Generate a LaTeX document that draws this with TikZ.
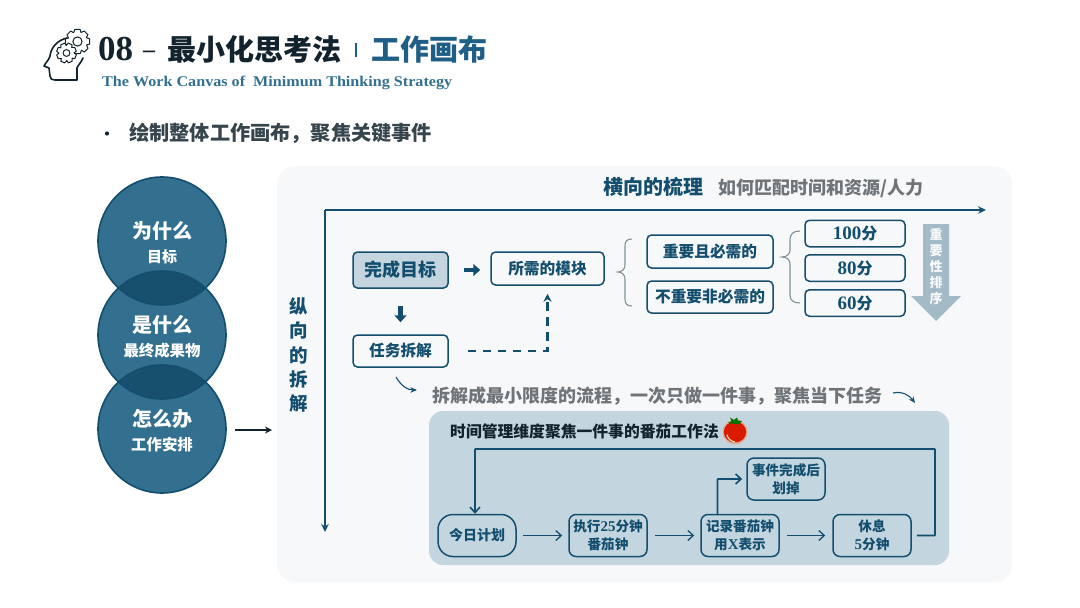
\documentclass[tikz,border=0pt]{standalone}
\usepackage{fontspec}
\usetikzlibrary{arrows.meta}
\setmainfont{Liberation Serif}
\newfontfamily\wide[FakeStretch=1.09]{Liberation Serif}
\newfontfamily\cjk{Noto Sans CJK SC}
\newcommand{\fs}[2]{\fontsize{#1}{#2}\selectfont}
\newcommand{\num}[1]{{\bfseries\rmfamily\fontsize{15}{18}\selectfont #1}}
\definecolor{ink}{HTML}{13232D}
\definecolor{teal}{HTML}{134E6E}
\definecolor{deep}{HTML}{1F5F85}
\definecolor{circ}{HTML}{33708F}
\definecolor{lap}{HTML}{17506F}
\definecolor{panel}{HTML}{F7F8F9}
\definecolor{blue}{HTML}{C3D5DF}
\definecolor{goalfill}{HTML}{C4D5E0}
\definecolor{graytext}{HTML}{6E7478}
\definecolor{bracec}{HTML}{7F9098}
\definecolor{sortc}{HTML}{A3BAC7}
\tikzset{
  box/.style={draw=teal,line width=1.5pt,rounded corners=4.5pt,inner sep=0pt,align=center,text=teal},
  bigbox/.style={box,font=\cjk\bfseries\fs{15.7}{20}},
  flowbox/.style={box,rounded corners=7pt,font=\cjk\bfseries\fs{13.6}{18}},
  scorebox/.style={box,minimum width=100pt,minimum height=26.5pt,font=\cjk\bfseries\fs{16}{20}},
  ball/.style={circle,minimum size=128pt,inner sep=0pt},
  balltext/.style={text=white,align=center,font=\cjk\bfseries},
  axis/.style={draw=teal,line width=1.8pt,-{Stealth[length=8pt,width=7.5pt]}},
  block/.style={draw=teal,line width=4.5pt,-{Triangle[length=7pt,width=12pt]}},
  flowarr/.style={draw=teal,line width=1.3pt,-{Straight Barb[length=5.5pt,width=10pt]}},
  flowline/.style={draw=teal,line width=1.6pt,rounded corners=0.5pt,-{Straight Barb[length=5.5pt,width=10pt]}},
  thin brace/.style={draw=bracec,line width=1.1pt},
  curvearr/.style={draw=teal,line width=1.1pt,-{Stealth[length=6.5pt,width=5.5pt]}},
}
\begin{document}
\begin{tikzpicture}[x=1pt,y=-1pt]
\useasboundingbox (0,0) rectangle (1080,608);
\fill[white] (0,0) rectangle (1080,608);

% ---- head icon
\draw[ink,line width=1.6pt,line join=round,line cap=round]
  (67,38) .. controls (58,40) and (51,47) .. (50,56)
  .. controls (49,60) and (46,62) .. (44,66)
  -- (49,68) -- (50,76) .. controls (50,79) and (52,80) .. (55,80) -- (77,80) -- (77,68)
  .. controls (78,65) and (81,63) .. (83,58);
\foreach \cx/\cy/\R/\r/\h/\st in {77.5/41.5/12.5/9.6/4.6/0,66.5/53/10/7.6/3.4/22}{
  \draw[ink,fill=white,line width=1pt,line join=round,shift={(\cx,\cy)}]
    (\st-24:\r) \foreach \a in {0,45,...,315}{ -- (\a+\st-12:\R) -- (\a+\st+12:\R) -- (\a+\st+21:\r) }
    -- cycle;
  \draw[ink,line width=1pt] (\cx,\cy) circle[radius=\h];
}

% ---- header
\node[anchor=west,inner sep=0pt,text=ink,font=\bfseries\fs{35}{38}] (num) at (98,49) {08};
\node[anchor=center,inner sep=0pt,text=ink,font=\bfseries\fs{24}{28}] (dash) at (149,54) {–};
\node[anchor=west,inner sep=0pt,text=ink,font=\cjk\bfseries\fs{29}{34}] (titleA) at (167,49) {最小化思考法};
\node[anchor=west,inner sep=0pt,text=deep,font=\cjk\bfseries\fs{29}{34}] (titleB) at (371,49) {工作画布};
\draw[deep,line width=1.2pt] (356,43) -- (356,57);
\node[anchor=west,inner sep=0pt,text=circ,font=\wide\bfseries\fs{14.8}{18}] (subtitle) at (102,83) {The Work Canvas of\ \ Minimum Thinking Strategy};
\fill[ink] (107,133.5) circle[radius=2.1];
\node[anchor=west,inner sep=0pt,text=ink!85,font=\cjk\bfseries\fs{20.2}{24}] (bullet) at (129,133) {绘制整体工作画布，聚焦关键事件};

% ---- panel
\fill[panel,rounded corners=18pt] (277,166) rectangle (1012,582);

% ---- circles
\node[ball,fill=circ] (c1) at (162,241) {};
\node[ball,fill=circ] (c2) at (162,335) {};
\node[ball,fill=circ] (c3) at (162,429) {};
\begin{scope}
  \clip (162,241) circle[radius=64];
  \fill[lap] (162,335) circle[radius=64];
\end{scope}
\begin{scope}
  \clip (162,335) circle[radius=64];
  \fill[lap] (162,429) circle[radius=64];
\end{scope}
\foreach \y in {241,335,429}{\draw[teal,line width=1.6pt] (162,\y) circle[radius=64];}
\node[balltext,font=\cjk\bfseries\fs{20}{24}] (c1a) at (162,231) {为什么};
\node[balltext,font=\cjk\bfseries\fs{15}{18}] (c1b) at (162,257) {目标};
\node[balltext,font=\cjk\bfseries\fs{20}{24}] (c2a) at (162,325) {是什么};
\node[balltext,font=\cjk\bfseries\fs{15.4}{18}] (c2b) at (162,351) {最终成果物};
\node[balltext,font=\cjk\bfseries\fs{20}{24}] (c3a) at (162,419) {怎么办};
\node[balltext,font=\cjk\bfseries\fs{15.4}{18}] (c3b) at (162,445) {工作安排};
\coordinate (leftend) at (272,430);
\draw[draw=ink,line width=1.8pt,-{Stealth[length=7pt,width=7pt]},shorten <=9pt] (c3.east |- leftend) -- (leftend);

% ---- vertical label
\node[align=center,inner sep=0pt,text=teal,font=\cjk\bfseries\fs{18.5}{24.2}] (vlabel) at (298.5,355) {纵\\向\\的\\拆\\解};

% ---- axes
\coordinate (origin) at (325,210);
\coordinate (xend) at (986,210);
\coordinate (yend) at (325,532);
\draw[axis] (origin) -- (xend);
\draw[axis] (origin) -- (yend);
\node[anchor=west,inner sep=0pt,text=teal,font=\cjk\bfseries\fs{20}{24}] (hlabel) at (603,187) {横向的梳理};
\node[anchor=west,inner sep=0pt,text=graytext,font=\cjk\bfseries\fs{18}{22}] (hnote) at (718,188) {如何匹配时间和资源/人力};

% ---- upper boxes
\node[box,fill=goalfill,minimum width=95pt,minimum height=36pt,font=\cjk\bfseries\fs{18}{22}] (goal) at (400.5,270) {完成目标};
\node[bigbox,minimum width=113pt,minimum height=33pt] (module) at (547.5,268.5) {所需的模块};
\node[bigbox,minimum width=95pt,minimum height=32pt] (task) at (400.5,351) {任务拆解};
\draw[block,shorten <=15pt,shorten >=10pt] (goal.east) -- (goal.east -| module.west);
\draw[block,shorten <=17pt,shorten >=12pt] (goal.south) -- (task.north);
\draw[draw=teal,line width=2.2pt,dash pattern=on 8.5pt off 6.5pt,-{Stealth[length=8pt,width=8pt]},shorten <=19pt,shorten >=8pt]
  (task.east) -- (task.east -| module.south) -- (module.south);

\draw[thin brace] (632,239) .. controls (627,239) and (625,241) .. (625,246) -- (625,265)
  .. controls (625,269) and (622,272) .. (618,272)
  .. controls (622,272) and (625,275) .. (625,279) -- (625,299)
  .. controls (625,304) and (627,306) .. (632,306);
\node[bigbox,minimum width=126pt,minimum height=33pt] (must) at (710,251.5) {重要且必需的};
\node[bigbox,minimum width=126pt,minimum height=32pt] (nomust) at (710,297) {不重要非必需的};

\draw[thin brace] (800,231) .. controls (793,231) and (790,234) .. (790,240) -- (790,250)
  .. controls (790,254) and (787,257) .. (782,257)
  .. controls (787,257) and (790,260) .. (790,264) -- (790,295)
  .. controls (790,300) and (793,303) .. (800,303);
\node[scorebox] (s100) at (855,233.5) {{\rmfamily\bfseries\fontsize{19}{20}\selectfont 100}分};
\node[scorebox] (s80) at (855,268) {{\rmfamily\bfseries\fontsize{19}{20}\selectfont 80}分};
\node[scorebox] (s60) at (855,303) {{\rmfamily\bfseries\fontsize{19}{20}\selectfont 60}分};

\fill[sortc] (923,224) -- (949,224) -- (949,296) -- (961,296) -- (936,321) -- (911,296) -- (923,296) -- cycle;
\node[align=center,inner sep=0pt,text=white!92!sortc,font=\cjk\bfseries\fs{13}{16}] (sortlabel) at (936,267) {重\\要\\性\\排\\序};

% ---- middle note
\coordinate (n1a) at (396,377);
\coordinate (n1b) at (417,390);
\coordinate (n2a) at (893,393);
\coordinate (n2b) at (915,403);
\draw[curvearr] (n1a) .. controls (401,386) and (408,390) .. (n1b);
\draw[curvearr] (n2a) .. controls (902,391) and (909,395) .. (n2b);
\node[anchor=west,inner sep=0pt,text=graytext,font=\cjk\bfseries\fs{18}{22}] (note) at (432,396) {拆解成最小限度的流程，一次只做一件事，聚焦当下任务};

% ---- pomodoro panel
\fill[blue,rounded corners=14pt] (429,411) rectangle (949,565);
\node[anchor=west,inner sep=0pt,text=ink,font=\cjk\bfseries\fs{15.8}{20}] (ptitle) at (450,431) {时间管理维度聚焦一件事的番茄工作法};
\fill[orange!60!red!70,opacity=.5] (735,432) circle[radius=12.5];
\fill[red!75!orange!85!black] (735,432) ellipse[x radius=11.2,y radius=10.5];
\draw[white!70!orange,line width=1.2pt,line cap=round] (727,435) .. controls (728,439) and (731,441) .. (735,442);
\fill[green!45!black] (735,424) -- (728,423) -- (731.5,421) -- (730,417.5) -- (734,420) -- (737,417.5) -- (738,420.5) -- (742,421) -- (739,424) -- cycle;

\node[flowbox,rounded corners=15pt,minimum width=78pt,minimum height=42pt,font=\cjk\bfseries\fs{14}{18}] (plan) at (477,535.5) {今日计划};
\node[flowbox,minimum width=78pt,minimum height=42pt] (run) at (608,535.5) {执行\num{25}分钟\\番茄钟};
\node[flowbox,minimum width=78pt,minimum height=42pt] (rec) at (740,535.5) {记录番茄钟\\用\num{X}表示};
\node[flowbox,minimum width=78pt,minimum height=42pt] (rest) at (872,535.5) {休息\\\num{5}分钟};
\node[flowbox,minimum width=78pt,minimum height=42pt] (done) at (786,479) {事件完成后\\划掉};
\draw[flowarr,shorten <=6pt,shorten >=6pt] (plan) -- (run);
\draw[flowarr,shorten <=7pt,shorten >=6pt] (run) -- (rec);
\draw[flowarr,shorten <=7pt,shorten >=7pt] (rec) -- (rest);
\coordinate (upT) at (717.5,514.5);
\draw[flowline,shorten >=4pt] (upT) -- (upT |- done.west) -- (done.west);
\coordinate (fbR) at (935,449);
\coordinate (fbL) at (475,449);
\draw[flowline,shorten <=5pt] (rest.east) -- (fbR |- rest.east) -- (fbR) -- (fbL) -- (fbL |- plan.north);
\end{tikzpicture}
\end{document}
